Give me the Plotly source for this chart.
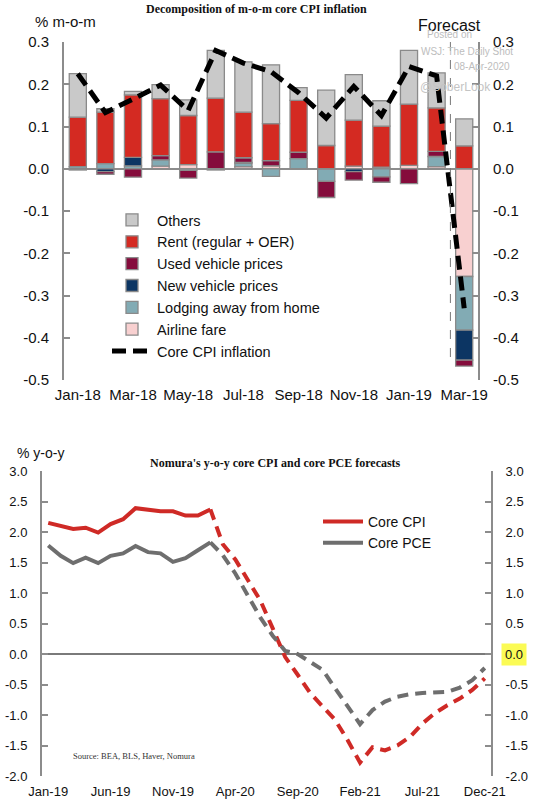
import pandas as pd
import plotly.graph_objects as go

# --- 상단: m-o-m core CPI 분해 ---
months_top = ["Jan-18", "Feb-18", "Mar-18", "Apr-18", "May-18", "Jun-18", "Jul-18", "Aug-18",
              "Sep-18", "Oct-18", "Nov-18", "Dec-18", "Jan-19", "Feb-19", "Mar-19"]
top_labels = ["Jan-18", "Mar-18", "May-18", "Jul-18", "Sep-18", "Nov-18", "Jan-19", "Mar-19"]

airline = [None, None, None, 0.006, 0.010, None, 0.005, 0.007, None, None, 0.006, 0.004, 0.008, 0.005, -0.255]
lodging = [0.005, 0.012, 0.007, 0.015, -0.004, -0.003, 0.008, -0.018, 0.024, -0.030, None, -0.019, None, 0.024, -0.127]
new_veh = [None, -0.007, 0.020, None, None, None, 0.002, None, None, None, -0.007, None, None, None, -0.071]
used_veh = [-0.003, -0.006, -0.020, 0.010, -0.018, 0.040, 0.011, 0.012, 0.015, -0.038, -0.020, -0.013, -0.035, 0.012, -0.014]
rent = [0.117, 0.122, 0.148, 0.135, 0.116, 0.127, 0.108, 0.088, 0.123, 0.055, 0.109, 0.097, 0.145, 0.103, 0.054]
others = [0.103, 0.008, 0.008, 0.033, 0.037, 0.113, 0.119, 0.139, 0.030, 0.131, 0.108, 0.060, 0.127, 0.083, 0.064]
core_mom = [0.225, 0.133, 0.165, 0.198, 0.138, 0.280, 0.250, 0.230, 0.180, 0.120, 0.195, 0.126, 0.242, 0.220, -0.330]

top_ticks = [-0.5, -0.4, -0.3, -0.2, -0.1, 0.0, 0.1, 0.2, 0.3]
top_ticktext = ["-0.5", "-0.4", "-0.3", "-0.2", "-0.1", "0.0", "0.1", "0.2", "0.3"]

# --- 하단: Nomura y-o-y 전망 ---
months_bot = list(pd.date_range("2019-01-01", "2021-12-01", freq="MS").strftime("%b-%y"))
bot_labels = ["Jan-19", "Jun-19", "Nov-19", "Apr-20", "Sep-20", "Feb-21", "Jul-21", "Dec-21"]
n_actual = 14  # Jan-19 ~ Feb-20 실적, 이후 전망(점선)

core_cpi = [2.15, 2.10, 2.05, 2.07, 1.99, 2.13, 2.21, 2.39, 2.37, 2.34, 2.34, 2.27, 2.27, 2.37,
            1.80, 1.55, 1.22, 0.88, 0.42, -0.05, -0.34, -0.64, -0.86, -1.08, -1.41, -1.78,
            -1.53, -1.58, -1.50, -1.36, -1.14, -0.97, -0.84, -0.73, -0.59, -0.40]
core_pce = [1.78, 1.61, 1.49, 1.58, 1.49, 1.61, 1.65, 1.77, 1.67, 1.65, 1.51, 1.57, 1.70, 1.83,
            1.62, 1.32, 0.95, 0.60, 0.30, 0.05, 0.00, -0.13, -0.26, -0.56, -0.86, -1.15,
            -0.92, -0.78, -0.70, -0.66, -0.64, -0.63, -0.62, -0.55, -0.43, -0.23]

bot_ticks = [-2.0, -1.5, -1.0, -0.5, 0.0, 0.5, 1.0, 1.5, 2.0, 2.5, 3.0]
bot_ticktext = ["-2.0", "-1.5", "-1.0", "-0.5", "0.0", "0.5", "1.0", "1.5", "2.0", "2.5", "3.0"]

FONT = "Arial, Liberation Sans, sans-serif"
SERIF = "Times New Roman, Liberation Serif, serif"
AXIS_GREY = "#8c8c8c"
W, H = 541, 805

fig = go.Figure()

# 상단 막대 (relative 스택: 먼저 추가한 것이 0에 가까움)
bar_specs = [
    ("Airline fare", airline, "#f8d0d0", 6),
    ("Lodging away from home", lodging, "#82abb4", 5),
    ("New vehicle prices", new_veh, "#0c3563", 4),
    ("Used vehicle prices", used_veh, "#850c3c", 3),
    ("Rent (regular + OER)", rent, "#d42a22", 2),
    ("Others", others, "#c9c9c9", 1),
]
for name, vals, color, rank in bar_specs:
    fig.add_trace(go.Bar(
        x=months_top, y=vals, name=name, legendrank=rank, legend="legend",
        marker=dict(color=color, line=dict(color="#8a8a8a", width=1.3)),
        xaxis="x", yaxis="y",
    ))

fig.add_trace(go.Scatter(
    x=months_top, y=core_mom, name="Core CPI inflation", mode="lines", legendrank=7,
    legend="legend", line=dict(color="black", width=5, dash="14px,7px"),
    xaxis="x", yaxis="y2",
))

# 하단 선 (실적 실선 + 전망 점선)
for name, vals, color in [("Core CPI", core_cpi, "#cf2a26"), ("Core PCE", core_pce, "#6e6e6e")]:
    fig.add_trace(go.Scatter(
        x=months_bot[:n_actual], y=vals[:n_actual], name=name, mode="lines",
        legend="legend2", line=dict(color=color, width=4),
        xaxis="x2", yaxis="y3",
    ))
    fig.add_trace(go.Scatter(
        x=months_bot[n_actual - 1:], y=vals[n_actual - 1:], name=name, mode="lines",
        showlegend=False, line=dict(color=color, width=4, dash="11px,7px"),
        xaxis="x2", yaxis="y4",
    ))


def px_x(v):
    return v / W


def px_y(v):
    return 1 - v / H


yaxis_style = dict(
    showline=True, linecolor=AXIS_GREY, linewidth=2, showgrid=False,
    ticks="inside", ticklen=6, tickcolor=AXIS_GREY, tickwidth=2,
    tickmode="array", ticklabelstandoff=10, automargin=False,
)

top_dom_x = [px_x(64), px_x(478)]
top_dom_y = [px_y(380), px_y(42)]
bot_dom_x = [px_x(42), px_x(491)]
bot_dom_y = [px_y(776), px_y(471)]

fig.update_layout(
    width=W, height=H, autosize=False,
    margin=dict(l=0, r=0, t=0, b=0, autoexpand=False),
    paper_bgcolor="white", plot_bgcolor="white",
    font=dict(family=FONT, color="#111111"),
    barmode="relative", bargap=0.38,
    xaxis=dict(domain=top_dom_x, anchor="y", type="category", range=[-0.5, 14.5],
               tickmode="array", tickvals=top_labels, ticktext=top_labels,
               showline=False, ticks="", showgrid=False, tickfont=dict(size=15),
               ticklabelstandoff=4, automargin=False),
    yaxis=dict(domain=top_dom_y, anchor="x", range=[-0.5, 0.3], tickvals=top_ticks,
               ticktext=top_ticktext, tickfont=dict(size=15), zeroline=True,
               zerolinecolor=AXIS_GREY, zerolinewidth=1.5, **yaxis_style),
    yaxis2=dict(overlaying="y", anchor="x", side="right", range=[-0.5, 0.3],
                tickvals=top_ticks, ticktext=top_ticktext, tickfont=dict(size=15),
                zeroline=False, **yaxis_style),
    xaxis2=dict(domain=bot_dom_x, anchor="y3", type="category", range=[-0.5, 35.5],
                tickmode="array", tickvals=bot_labels, ticktext=bot_labels,
                showline=False, ticks="", showgrid=False, tickfont=dict(size=13),
                ticklabelstandoff=6, automargin=False),
    yaxis3=dict(domain=bot_dom_y, anchor="x2", range=[-2, 3], tickvals=bot_ticks,
                ticktext=bot_ticktext, tickfont=dict(size=13), zeroline=True,
                zerolinecolor="#7a7a7a", zerolinewidth=1.5, **yaxis_style),
    yaxis4=dict(overlaying="y3", anchor="x2", side="right", range=[-2, 3],
                tickvals=bot_ticks,
                ticktext=[t if t != "0.0" else " " for t in bot_ticktext],
                tickfont=dict(size=13), zeroline=False, **yaxis_style),
    legend=dict(x=px_x(107), y=px_y(204), xanchor="left", yanchor="top",
                font=dict(size=14.5), bgcolor="rgba(0,0,0,0)", itemwidth=40,
                tracegroupgap=0),
    legend2=dict(x=px_x(318), y=px_y(506), xanchor="left", yanchor="top",
                 font=dict(size=14), bgcolor="rgba(0,0,0,0)", itemwidth=40,
                 tracegroupgap=0),
)

# Forecast 구분선
fig.add_shape(type="line", xref="x", yref="y", x0=13.5, x1=13.5, y0=0.3, y1=-0.45,
              line=dict(color="#777777", width=1, dash="dash"))


def note(text, x, y, size, family=FONT, color="#111111", **kw):
    fig.add_annotation(text=text, xref="paper", yref="paper", x=px_x(x), y=px_y(y),
                       showarrow=False, font=dict(size=size, family=family, color=color),
                       xanchor="center", yanchor="middle", **kw)


note("<b>Decomposition of m-o-m core CPI inflation</b>", 256, 9, 12, SERIF)
note("% m-o-m", 65, 22, 15)
note("Forecast", 449, 26, 16)
# 워터마크
note("Posted on", 449, 35, 10, color="#bdbdbd")
note("WSJ: The Daily Shot", 467, 51, 10, color="#bdbdbd")
note("08-Apr-2020", 482, 67, 10, color="#bdbdbd")
note("@SoberLook", 455, 87, 12, color="#c4c4c4")

note("<b>Nomura's y-o-y core CPI and core PCE forecasts</b>", 275, 463, 12, SERIF)
note("% y-o-y", 40, 453, 14)
note("Source: BEA, BLS, Haver, Nomura", 134, 756, 8.5, SERIF, color="#333333")

# 오른쪽 0.0 강조
fig.add_annotation(text="0.0", xref="paper", yref="y4", x=px_x(514), y=0, showarrow=False,
                   font=dict(size=13, family=FONT, color="#111111"), bgcolor="#fbfb55",
                   borderpad=3, xanchor="center", yanchor="middle")

# 기본 body 여백(8px) 제거 → 541x805 창에 딱 맞게, 모드바 숨김
fig.write_html("out.html", config={"displayModeBar": False},
               post_script="document.body.style.margin = '0px';")
